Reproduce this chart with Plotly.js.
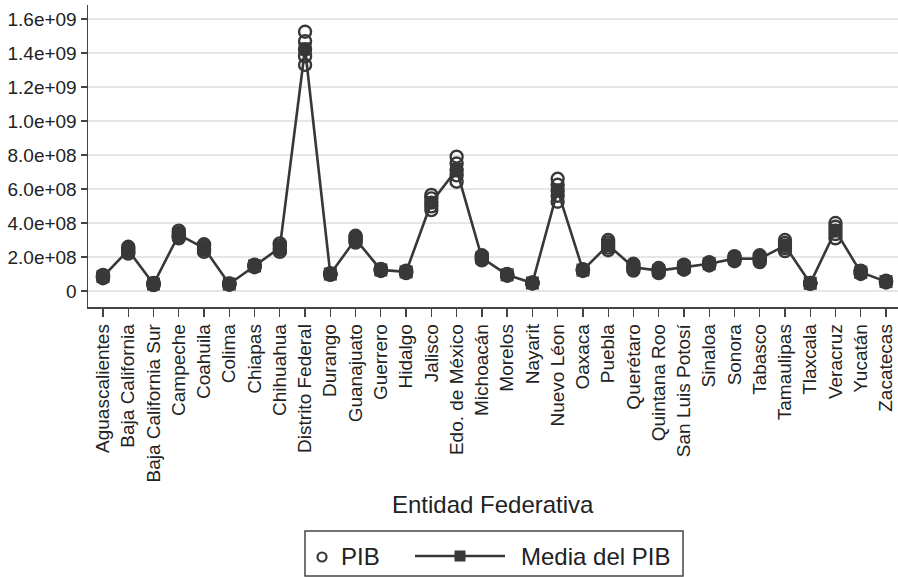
<!DOCTYPE html>
<html>
<head>
<meta charset="utf-8">
<script src="https://cdn.plot.ly/plotly-3.0.1.min.js"></script>
<style>html,body{margin:0;padding:0;background:#fff;}#chart{width:898px;height:577px;}</style>
</head>
<body>
<div id="chart"></div>
<script>
// ---- Data ----
const estados = ["Aguascalientes","Baja California","Baja California Sur","Campeche","Coahuila","Colima","Chiapas","Chihuahua","Distrito Federal","Durango","Guanajuato","Guerrero","Hidalgo","Jalisco","Edo. de México","Michoacán","Morelos","Nayarit","Nuevo Léon","Oaxaca","Puebla","Querétaro","Quintana Roo","San Luis Potosí","Sinaloa","Sonora","Tabasco","Tamaulipas","Tlaxcala","Veracruz","Yucatán","Zacatecas"];

const pibAnio1 = [0.75e8,2.20e8,0.35e8,3.10e8,2.30e8,0.37e8,1.40e8,2.30e8,13.3e8,0.95e8,2.85e8,1.18e8,1.05e8,4.76e8,6.43e8,1.80e8,0.90e8,0.44e8,5.25e8,1.18e8,2.40e8,1.20e8,1.05e8,1.25e8,1.50e8,1.75e8,1.70e8,2.35e8,0.42e8,3.10e8,1.00e8,0.50e8];
const pibAnio2 = [0.80e8,2.30e8,0.38e8,3.20e8,2.42e8,0.39e8,1.44e8,2.42e8,13.8e8,0.97e8,2.95e8,1.21e8,1.09e8,4.98e8,6.80e8,1.88e8,0.93e8,0.45e8,5.60e8,1.21e8,2.55e8,1.30e8,1.13e8,1.33e8,1.55e8,1.83e8,1.80e8,2.52e8,0.44e8,3.35e8,1.05e8,0.53e8];
const pibAnio3 = [0.84e8,2.40e8,0.41e8,3.30e8,2.52e8,0.41e8,1.47e8,2.53e8,14.2e8,0.99e8,3.03e8,1.24e8,1.12e8,5.20e8,7.10e8,1.95e8,0.95e8,0.47e8,5.90e8,1.23e8,2.70e8,1.40e8,1.20e8,1.40e8,1.60e8,1.90e8,1.90e8,2.66e8,0.45e8,3.55e8,1.10e8,0.55e8];
const pibAnio4 = [0.90e8,2.50e8,0.45e8,3.42e8,2.65e8,0.43e8,1.51e8,2.68e8,14.7e8,1.02e8,3.15e8,1.27e8,1.16e8,5.45e8,7.50e8,2.02e8,0.98e8,0.49e8,6.25e8,1.26e8,2.85e8,1.50e8,1.28e8,1.48e8,1.65e8,1.98e8,2.00e8,2.82e8,0.47e8,3.78e8,1.15e8,0.58e8];
const pibAnio5 = [0.95e8,2.60e8,0.48e8,3.55e8,2.75e8,0.45e8,1.55e8,2.80e8,15.25e8,1.05e8,3.25e8,1.30e8,1.20e8,5.65e8,7.90e8,2.10e8,1.00e8,0.50e8,6.60e8,1.28e8,3.00e8,1.60e8,1.35e8,1.55e8,1.70e8,2.05e8,2.10e8,3.00e8,0.48e8,4.00e8,1.20e8,0.60e8];

const yTickVals = [0,2e8,4e8,6e8,8e8,1e9,1.2e9,1.4e9,1.6e9];
const yTickText = ["0","2.0e+08","4.0e+08","6.0e+08","8.0e+08","1.0e+09","1.2e+09","1.4e+09","1.6e+09"];

// ---- Build traces ----
const years = [pibAnio1,pibAnio2,pibAnio3,pibAnio4,pibAnio5];
const pibX = [], pibY = [];
years.forEach(arr => arr.forEach((v,i) => { pibX.push(estados[i]); pibY.push(v); }));
const media = estados.map((_,i) => years.reduce((s,a)=>s+a[i],0)/years.length);

const C = "#383838";
const FONT = "Liberation Sans, Arial, Helvetica, sans-serif";

const traces = [
  {type:"scatter", mode:"markers", x:pibX, y:pibY, name:"PIB",
   marker:{symbol:"circle-open", size:12, color:C, line:{width:2.4, color:C}}},
  {type:"scatter", mode:"lines+markers", x:estados, y:media, name:"Media del PIB",
   line:{color:C, width:2.6}, marker:{symbol:"square", size:13, color:C}}
];

// pixel helpers for legend placement
const ML=88, MT=5, PW=810, PH=302;
const px = p => (p-ML)/PW;
const py = p => (MT+PH-p)/PH;

const shapes = [
  {type:"rect", xref:"paper", yref:"paper", x0:px(305), x1:px(683), y0:py(576), y1:py(531), line:{color:"#444", width:1.5}, fillcolor:"rgba(0,0,0,0)"},
  {type:"circle", xref:"paper", yref:"paper", x0:px(317.5), x1:px(326.5), y0:py(561.5), y1:py(552.5), line:{color:C, width:2.2}},
  {type:"line", xref:"paper", yref:"paper", x0:px(415), x1:px(505), y0:py(556), y1:py(556), line:{color:C, width:2.5}},
  {type:"rect", xref:"paper", yref:"paper", x0:px(454.5), x1:px(465.5), y0:py(561.5), y1:py(550.5), line:{color:C, width:0}, fillcolor:C}
];

const annotations = [
  {xref:"paper", yref:"paper", x:px(493), y:py(504), text:"Entidad Federativa", showarrow:false, xanchor:"center", yanchor:"middle", font:{family:FONT, size:24, color:"#222"}},
  {xref:"paper", yref:"paper", x:px(339), y:py(556), text:"PIB", showarrow:false, xanchor:"left", yanchor:"middle", font:{family:FONT, size:24, color:"#222"}},
  {xref:"paper", yref:"paper", x:px(519), y:py(556), text:"Media del PIB", showarrow:false, xanchor:"left", yanchor:"middle", font:{family:FONT, size:24, color:"#222"}}
];

const layout = {
  width:898, height:577,
  margin:{l:ML, r:0, t:MT, b:577-MT-PH, pad:0},
  paper_bgcolor:"#fff", plot_bgcolor:"#fff",
  showlegend:false,
  font:{family:FONT, color:"#222"},
  xaxis:{type:"category", categoryorder:"array", categoryarray:estados,
    range:[-0.594, 31.475], showgrid:false, zeroline:false,
    showline:true, linecolor:"#444", linewidth:1.5,
    ticks:"outside", ticklen:8, tickwidth:1.3, tickcolor:"#444",
    tickangle:-90, tickfont:{family:FONT, size:19, color:"#222"}, automargin:false},
  yaxis:{range:[-9.41e7, 1.6824e9], tickmode:"array", tickvals:yTickVals, ticktext:yTickText,
    showgrid:true, gridcolor:"#e6e6e6", gridwidth:1.8, zeroline:false,
    showline:true, linecolor:"#444", linewidth:1.5,
    ticks:"outside", ticklen:6, tickwidth:1.3, tickcolor:"#444",
    tickfont:{family:FONT, size:19, color:"#222"}, automargin:false},
  shapes:shapes, annotations:annotations
};

Plotly.newPlot("chart", traces, layout, {displayModeBar:false, staticPlot:true});
</script>
</body>
</html>
